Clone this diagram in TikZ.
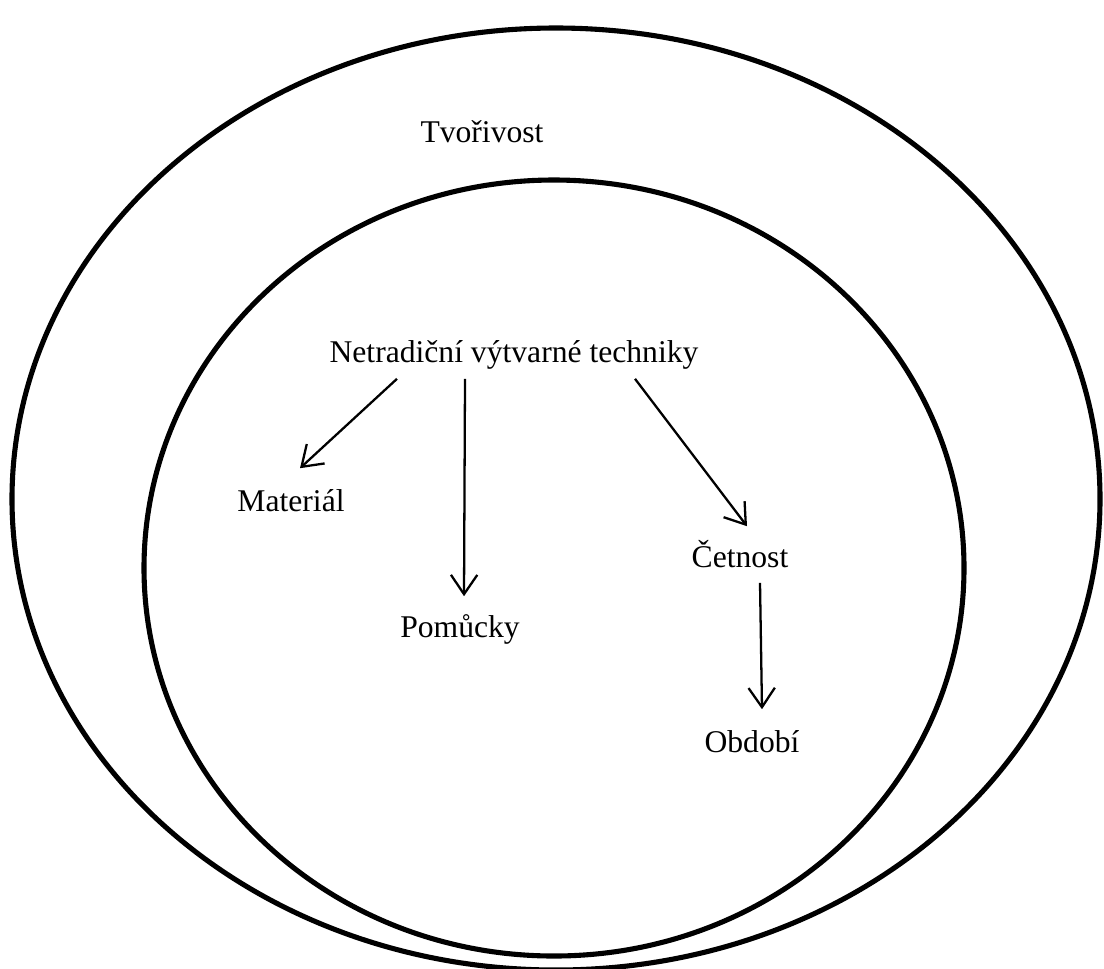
\documentclass[tikz,border=0pt]{standalone}
\usepackage{fontspec}
\setmainfont{Liberation Serif}
\usetikzlibrary{arrows.meta}

\begin{document}
\begin{tikzpicture}[x=0.02cm, y=-0.02cm,
  circ/.style={black, line width=2.9pt},
  lbl/.style={font=\fontsize{18}{21}\selectfont, inner sep=2pt, text height=13pt, text depth=4pt},
  arr/.style={black, line width=1.3pt, -{Straight Barb[length=11pt,width=15pt,line width=1.3pt]}}]
\useasboundingbox (0,0) rectangle (1104,968);
\fill[white] (0,0) rectangle (1104,968);
% two sets
\draw[circ] (556,499) ellipse [x radius=544, y radius=471];
\draw[circ] (554,568) ellipse [x radius=410, y radius=388];
% labels
\node[lbl] (tvo) at (482,135) {Tvořivost};
\node[lbl] (ntv) at (514,355) {Netradiční výtvarné techniky};
\node[lbl] (mat) at (291,504) {Materiál};
\node[lbl] (pom) at (460,630) {Pomůcky};
\node[lbl] (cet) at (740,560) {Četnost};
\node[lbl] (obd) at (752,745) {Období};
% arrows
\draw[arr] ([shift={(-117,5)}]ntv.south) -- ([shift={(9,-17)}]mat.north);
\draw[arr] ([shift={(-49,5)}]ntv.south) -- ([shift={(4,-15)}]pom.north);
\draw[arr] ([shift={(121,5)}]ntv.south) -- ([shift={(7,-15)}]cet.north);
\draw[arr] ([shift={(20,4)}]cet.south) -- ([shift={(10,-17)}]obd.north);
\end{tikzpicture}
\end{document}
